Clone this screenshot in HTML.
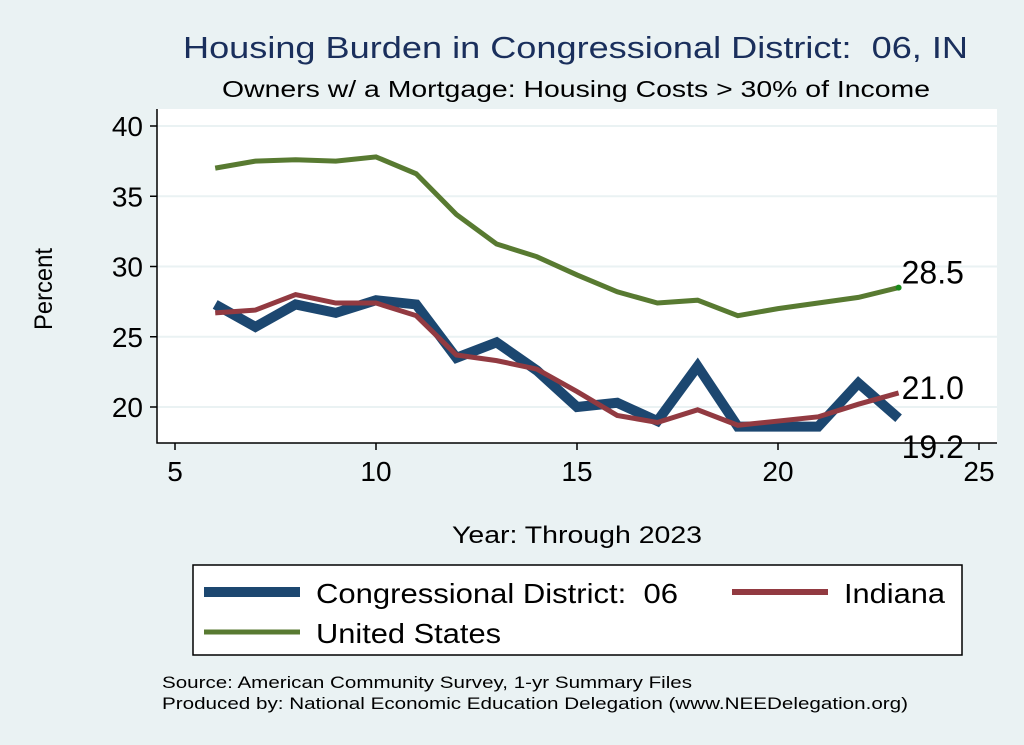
<!DOCTYPE html>
<html><head><meta charset="utf-8"><style>
body{margin:0;background:#eaf2f3;font-family:"Liberation Sans",sans-serif;}
svg{display:block}
text{white-space:pre}
</style></head><body>
<svg width="1024" height="745" viewBox="0 0 1024 745">
<rect x="0" y="0" width="1024" height="745" fill="#eaf2f3"/>
<text x="183" y="58" font-size="31" fill="#1a2f5c" textLength="785" lengthAdjust="spacingAndGlyphs">Housing Burden in Congressional District:  06, IN</text>
<text x="222" y="97" font-size="23" fill="#000" textLength="708" lengthAdjust="spacingAndGlyphs">Owners w/ a Mortgage: Housing Costs &gt; 30% of Income</text>
<rect x="157" y="109" width="840" height="334" fill="#fff"/>
<g id="grid"></g>
<g id="series"></g>
<g id="axes"></g>
<text transform="translate(52,330) rotate(-90)" font-size="25" textLength="82" lengthAdjust="spacingAndGlyphs">Percent</text>
<text x="452" y="543" font-size="24" textLength="250" lengthAdjust="spacingAndGlyphs">Year: Through 2023</text>
<g>
<rect x="193" y="565" width="769" height="90" fill="#fff" stroke="#000" stroke-width="1.5"/>
<line x1="204" y1="592" x2="300" y2="592" stroke="#1c4770" stroke-width="10"/>
<text x="316" y="603" font-size="28" textLength="362" lengthAdjust="spacingAndGlyphs">Congressional District:  06</text>
<line x1="732" y1="592" x2="828" y2="592" stroke="#923a41" stroke-width="6"/>
<text x="844" y="603" font-size="28" textLength="101" lengthAdjust="spacingAndGlyphs">Indiana</text>
<line x1="204" y1="632" x2="300" y2="632" stroke="#587a31" stroke-width="5"/>
<text x="316" y="643" font-size="28" textLength="185" lengthAdjust="spacingAndGlyphs">United States</text>
</g>
<text x="162" y="688" font-size="17" textLength="530" lengthAdjust="spacingAndGlyphs">Source: American Community Survey, 1-yr Summary Files</text>
<text x="162" y="709" font-size="17" textLength="746" lengthAdjust="spacingAndGlyphs">Produced by: National Economic Education Delegation (www.NEEDelegation.org)</text>
</svg>
<script>
const years=[6,7,8,9,10,11,12,13,14,15,16,17,18,19,20,21,22,23];
const district=[27.3,25.7,27.3,26.7,27.6,27.3,23.5,24.6,22.6,20.0,20.3,19.0,22.9,18.6,18.6,18.6,21.7,19.2];
const indiana=[26.7,26.9,28.0,27.4,27.4,26.5,23.7,23.3,22.7,21.1,19.4,18.9,19.8,18.7,19.0,19.3,20.2,21.0];
const us=[37.0,37.5,37.6,37.5,37.8,36.6,33.7,31.6,30.7,29.4,28.2,27.4,27.6,26.5,27.0,27.4,27.8,28.5];
const xTicks=[5,10,15,20,25];
const yTicks=[20,25,30,35,40];
const NS="http://www.w3.org/2000/svg";
const X=v=>175+(v-5)*40.2;
const Y=v=>407-(v-20)*14.05;
function mk(tag,attrs,parent){const e=document.createElementNS(NS,tag);for(const k in attrs)e.setAttribute(k,attrs[k]);document.getElementById(parent).appendChild(e);return e;}
yTicks.forEach(t=>{
 const g=mk('line',{x1:157,x2:997,y1:Y(t),y2:Y(t),stroke:'#eaf2f3','stroke-width':2},'grid');
 
 
 const tk=mk('line',{x1:150,x2:157,y1:Y(t),y2:Y(t),stroke:'#000','stroke-width':1.5},'axes');
 
 
 const tx=mk('text',{x:143,y:Y(t)+10,'text-anchor':'end','font-size':28},'axes');
 tx.textContent=t;
 
 
});
xTicks.forEach(t=>{
 const tk=mk('line',{x1:X(t),x2:X(t),y1:443,y2:450,stroke:'#000','stroke-width':1.5},'axes');
 
 
 const tx=mk('text',{x:X(t),y:481,'text-anchor':'middle','font-size':28},'axes');
 tx.textContent=t;
 
 
});
const ax=mk('path',{d:'M157 109 V443 H997',fill:'none',stroke:'#000','stroke-width':1.5},'axes');


function line(vals,color,w,name){
 const p=mk('polyline',{points:years.map((y,i)=>X(y)+','+Y(vals[i])).join(' '),fill:'none',stroke:color,'stroke-width':w,'stroke-linejoin':'miter'},'series');
 
 
}
line(us,'#587a31',5,'line-us');
line(district,'#1c4770',10,'line-district');
line(indiana,'#923a41',5,'line-indiana');
const n=years.length-1;
const dot=mk('circle',{cx:X(years[n]),cy:Y(us[n]),r:3,fill:'#1a8a1a'},'series');


[[us[n],-4,'label-us-end'],[indiana[n],6,'label-indiana-end'],[district[n],40,'label-district-end']].forEach(([v,dy,nm])=>{
 const t=mk('text',{x:X(years[n])+3,y:Y(v)+dy,'font-size':32},'series');
 t.textContent=v.toFixed(1);
 
 
});
</script>
</body></html>
